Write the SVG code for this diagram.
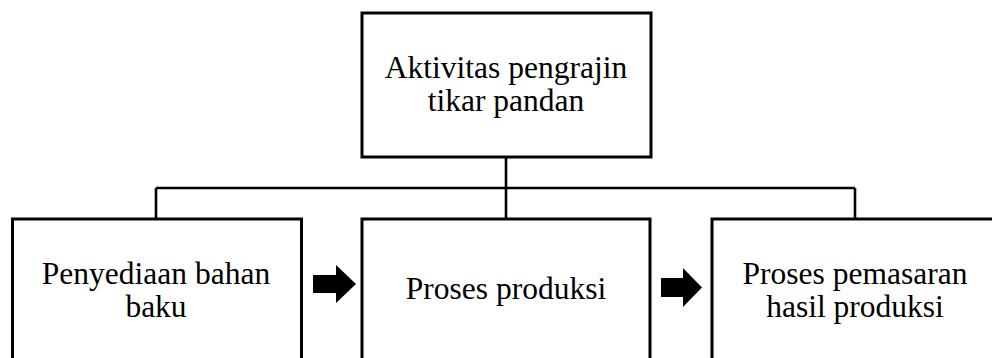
<svg xmlns="http://www.w3.org/2000/svg" width="992" height="358" viewBox="0 0 992 358">
<style>
.box{fill:#fff;stroke:#000;stroke-width:3}
.ln{fill:none;stroke:#000;stroke-width:2.6}
.t{font-family:"Liberation Serif","Times New Roman",serif;font-size:31.5px;fill:#000;text-anchor:middle}
.arr{fill:#000}
</style>
<rect width="992" height="358" fill="#fff"/>
<g id="connectors">
<path class="ln" d="M506 157V188M156 188H855M156 188V219M506 188V219M855 188V219"/>
<polygon class="arr" points="313,275 336,275 336,265 356,284 336,303 336,293 313,293"/>
<polygon class="arr" points="661,278 683,278 683,268 702,287.5 683,307 683,297 661,297"/>
</g>
<g id="top">
<rect class="box" x="362" y="13" width="289" height="144"/>
<text class="t" x="506" y="78">Aktivitas pengrajin</text>
<text class="t" x="506" y="111">tikar pandan</text>
</g>
<g id="bahan">
<rect class="box" x="12.5" y="219" width="289" height="150"/>
<text class="t" x="156" y="284">Penyediaan bahan</text>
<text class="t" x="156" y="317">baku</text>
</g>
<g id="produksi">
<rect class="box" x="362" y="219" width="288" height="150"/>
<text class="t" x="506" y="299">Proses produksi</text>
</g>
<g id="pemasaran">
<rect class="box" x="712" y="219" width="287" height="150"/>
<text class="t" x="855" y="284">Proses pemasaran</text>
<text class="t" x="855" y="317">hasil produksi</text>
</g>
</svg>
